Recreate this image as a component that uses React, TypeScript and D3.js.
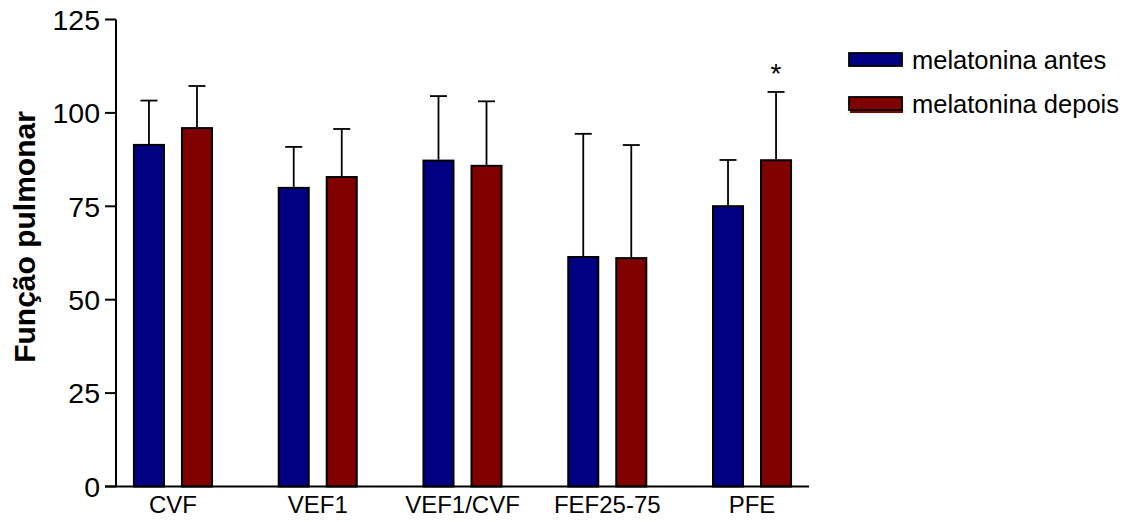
import React from "react";
import * as d3 from "d3";

const categories = ["CVF", "VEF1", "VEF1/CVF", "FEF25-75", "PFE"];
const seriesNames = ["melatonina antes", "melatonina depois"];
const antesMean = [91.7, 80.2, 87.5, 61.7, 75.3];
const antesSD = [11.6, 10.7, 17.0, 32.7, 12.1];
const depoisMean = [96.2, 83.1, 86.1, 61.4, 87.6];
const depoisSD = [11.0, 12.6, 17.0, 30.0, 18.0];
const significant = [false, false, false, false, true];
const yTicks = [0, 25, 50, 75, 100, 125];

const W = 1138;
const H = 522;
const colors = ["#000080", "#800000"];
const font = "Arial, 'Liberation Sans', Helvetica, sans-serif";

export default function App() {
  const x0 = 116, x1 = 809, yTop = 19.5, yBot = 486.5;
  const y = d3.scaleLinear().domain([0, 125]).range([yBot, yTop]);
  const x = d3.scaleBand<string>().domain(categories).range([x0, x1]).paddingInner(0.447).paddingOuter(0.117);
  const xs = d3.scaleBand<string>().domain(seriesNames).range([0, x.bandwidth()]).paddingInner(0.333);
  const means = [antesMean, depoisMean];
  const sds = [antesSD, depoisSD];
  const capW = 17;

  return (
    <svg width={W} height={H} style={{ position: "absolute", left: 0, top: 0, background: "#fff" }} fontFamily={font}>
      {/* bars */}
      {categories.map((c, i) =>
        seriesNames.map((s, k) => {
          const bx = (x(c) as number) + (xs(s) as number);
          const bw = xs.bandwidth();
          const v = means[k][i];
          const top = y(v + sds[k][i]);
          const cx = bx + bw / 2;
          return (
            <g key={c + s}>
              <line x1={cx} x2={cx} y1={y(v)} y2={top} stroke="#000" strokeWidth={1.8} />
              <line x1={cx - capW / 2} x2={cx + capW / 2} y1={top} y2={top} stroke="#000" strokeWidth={1.8} />
              <rect x={bx + 1} y={y(v) + 1} width={bw - 2} height={yBot - y(v) - 1} fill={colors[k]} stroke="#000" strokeWidth={2} />
            </g>
          );
        })
      )}
      {/* significance */}
      {categories.map((c, i) =>
        significant[i] ? (
          <text key={"s" + c} x={(x(c) as number) + (xs(seriesNames[1]) as number) + xs.bandwidth() / 2} y={y(depoisMean[i] + depoisSD[i]) - 9} textAnchor="middle" fontSize={28} fill="#000">*</text>
        ) : null
      )}
      {/* axes */}
      <line x1={x0} x2={x0} y1={yTop} y2={yBot} stroke="#000" strokeWidth={2} />
      <line x1={x0 - 11} x2={x1} y1={yBot} y2={yBot} stroke="#000" strokeWidth={2} />
      {yTicks.map((t) => (
        <g key={t}>
          <line x1={x0 - 11} x2={x0} y1={y(t)} y2={y(t)} stroke="#000" strokeWidth={2} />
          <text x={x0 - 16} y={y(t)} dy="0.36em" textAnchor="end" fontSize={28.5} fill="#000">{t}</text>
        </g>
      ))}
      {categories.map((c) => (
        <text key={c} x={(x(c) as number) + x.bandwidth() / 2} y={513} textAnchor="middle" fontSize={24} fill="#000">{c}</text>
      ))}
      <text transform={`translate(35,237) rotate(-90)`} textAnchor="middle" fontSize={30} fontWeight="bold" fill="#000">Função pulmonar</text>
      {/* legend */}
      {seriesNames.map((s, k) => {
        const ly = 53 + k * 44;
        return (
          <g key={s}>
            {k === 1 && <rect x={850} y={ly + 3} width={53} height={13} fill={colors[k]} />}
            <rect x={849} y={ly} width={53} height={13} fill={colors[k]} stroke="#000" strokeWidth={1.8} />
            <text x={912} y={ly + 16} fontSize={25.5} fill="#000">{s}</text>
          </g>
        );
      })}
    </svg>
  );
}
